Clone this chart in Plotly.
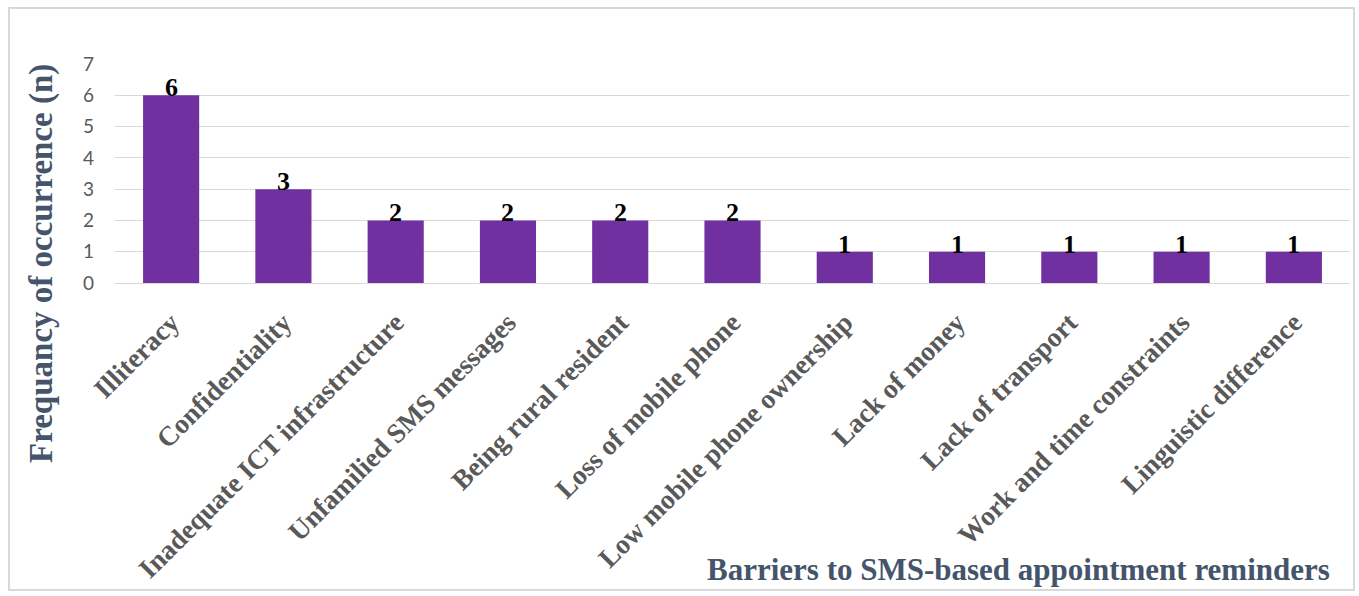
import plotly.graph_objects as go

categories = ["Illiteracy", "Confidentiality", "Inadequate ICT infrastructure",
              "Unfamilied SMS messages", "Being rural resident", "Loss of mobile phone",
              "Low mobile phone ownership", "Lack of money", "Lack of transport",
              "Work and time constraints", "Linguistic difference"]
values = [6, 3, 2, 2, 2, 2, 1, 1, 1, 1, 1]
y_ticks = [0, 1, 2, 3, 4, 5, 6, 7]
x_title = "Barriers to SMS-based appointment reminders"
y_title = "Frequancy of occurrence (n)"

W, H = 1359, 596
L, R, T, B = 115, 9, 64, 313
pw, ph = W - L - R, H - T - B

def px(x):
    return (x - L) / pw

def py(y):
    return (H - B - y) / ph

serif = "Liberation Serif"
fig = go.Figure()
fig.add_trace(go.Bar(x=categories, y=values, marker=dict(color="#7030A0", line=dict(width=0)),
                     width=0.5, hoverinfo="x+y"))

for c, v in zip(categories, values):
    fig.add_annotation(x=c, y=v, text="<b>%d</b>" % v, showarrow=False, xanchor="center",
                       yanchor="bottom", yshift=-9,
                       font=dict(family=serif, size=26, color="#000000"))

fig.add_annotation(xref="paper", yref="paper", x=px(1332), y=py(569), text="<b>%s</b>" % x_title,
                   showarrow=False, xanchor="right", yanchor="middle",
                   font=dict(family=serif, size=31, color="#44546A"))
fig.add_annotation(xref="paper", yref="paper", x=px(41), y=py(264), text="<b>%s</b>" % y_title,
                   showarrow=False, xanchor="center", yanchor="middle", textangle=-90,
                   font=dict(family=serif, size=33, color="#44546A"))

fig.add_shape(type="rect", xref="paper", yref="paper", x0=px(9), x1=px(1354), y0=py(590), y1=py(8),
              line=dict(color="#D9D9D9", width=2), fillcolor="rgba(0,0,0,0)", layer="below")

fig.update_layout(
    width=W, height=H, margin=dict(l=L, r=R, t=T, b=B, autoexpand=False),
    paper_bgcolor="white", plot_bgcolor="white", showlegend=False,
    xaxis=dict(tickangle=-45, automargin=False, showgrid=False, showline=False, zeroline=False,
               tickvals=categories, ticktext=["<b>%s</b>" % c for c in categories],
               tickfont=dict(family=serif, size=27.5, color="#595959"), ticks="",
               ticklabelstandoff=17),
    yaxis=dict(range=[0, 7], tickvals=y_ticks, showgrid=True, gridcolor="#D9D9D9", gridwidth=1,
               zeroline=True, zerolinecolor="#D9D9D9", zerolinewidth=1, automargin=False,
               tickfont=dict(family="Lato", size=19, color="#595959"), ticks="",
               ticklabelstandoff=20),
)

fig.write_html("out.html")
